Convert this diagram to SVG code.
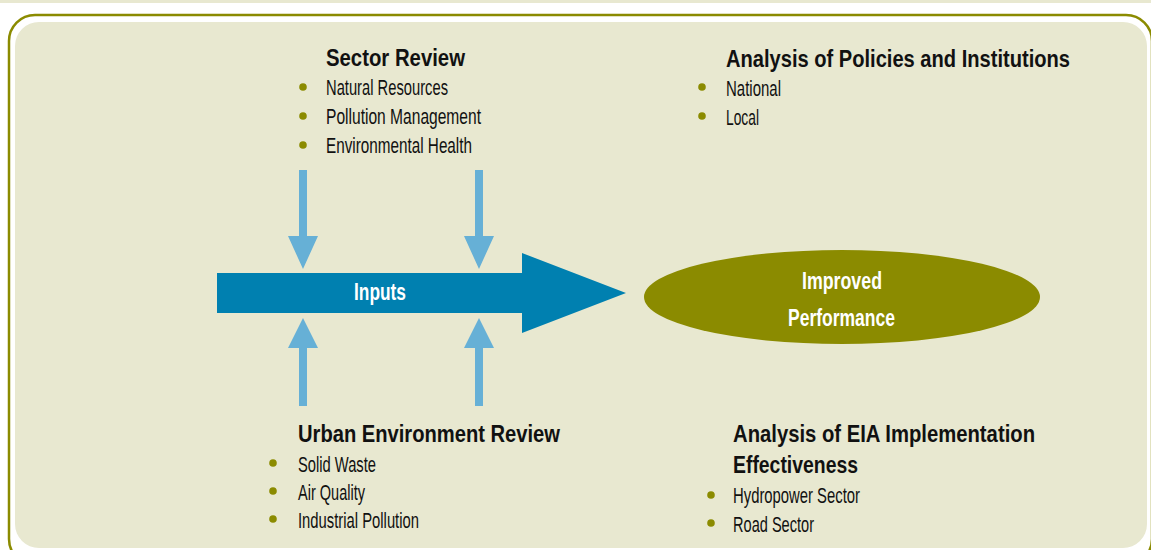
<svg xmlns="http://www.w3.org/2000/svg" width="1151" height="550" viewBox="0 0 1151 550">
<style>
.h{font-family:"Liberation Sans Narrow","Liberation Sans",Arial,sans-serif;font-weight:bold;font-size:24px;fill:#111}
.t{font-family:"Liberation Sans Narrow","Liberation Sans",Arial,sans-serif;font-size:22.5px;fill:#111}
.w{font-family:"Liberation Sans Narrow","Liberation Sans",Arial,sans-serif;font-weight:bold;font-size:23px;fill:#fff}
.b{fill:#8b8b00}
.sa{fill:#66b0d6}
</style>
<defs>
<path id="down" d="M-4,0 H4 V66 H15 L0,99 L-15,66 H-4 Z"/>
<path id="up" d="M-4,0 H4 V-58 H15 L0,-88 L-15,-58 H-4 Z"/>
</defs>
<rect x="0" y="0" width="1151" height="550" fill="#ffffff"/>
<rect x="0" y="0" width="1151" height="3" fill="#e8e8d0"/>
<g id="frame">
<rect x="9" y="15" width="1143" height="550" rx="26" fill="none" stroke="#8b8b00" stroke-width="2.5"/>
<rect x="15" y="22" width="1132" height="526" rx="24" fill="#e8e8d0"/>
</g>
<g id="connectors">
<use href="#down" x="303" y="170" class="sa"/>
<use href="#down" x="479" y="170" class="sa"/>
<use href="#up" x="303" y="406" class="sa"/>
<use href="#up" x="479" y="406" class="sa"/>
</g>
<g id="inputs">
<path d="M217,273 H522 V253 L626,293 L522,333 V313 H217 Z" fill="#0080b0"/>
<text class="w" x="354" y="300" textLength="52" lengthAdjust="spacingAndGlyphs">Inputs</text>
</g>
<g id="performance">
<ellipse cx="842" cy="297" rx="198" ry="47" fill="#8b8b00"/>
<text class="w" x="802" y="289" textLength="80" lengthAdjust="spacingAndGlyphs">Improved</text>
<text class="w" x="788" y="326" textLength="107" lengthAdjust="spacingAndGlyphs">Performance</text>
</g>
<g id="sector-review">
<text class="h" x="326" y="66" textLength="139" lengthAdjust="spacingAndGlyphs">Sector Review</text>
<circle class="b" cx="303" cy="87" r="3.8"/>
<circle class="b" cx="303" cy="116" r="3.8"/>
<circle class="b" cx="303" cy="145" r="3.8"/>
<text class="t" x="326" y="95" textLength="122" lengthAdjust="spacingAndGlyphs">Natural Resources</text>
<text class="t" x="326" y="124" textLength="155" lengthAdjust="spacingAndGlyphs">Pollution Management</text>
<text class="t" x="326" y="153" textLength="146" lengthAdjust="spacingAndGlyphs">Environmental Health</text>
</g>
<g id="policies">
<text class="h" x="726" y="67" textLength="344" lengthAdjust="spacingAndGlyphs">Analysis of Policies and Institutions</text>
<circle class="b" cx="702" cy="87" r="3.8"/>
<circle class="b" cx="702" cy="116" r="3.8"/>
<text class="t" x="726" y="96" textLength="55" lengthAdjust="spacingAndGlyphs">National</text>
<text class="t" x="726" y="125" textLength="33" lengthAdjust="spacingAndGlyphs">Local</text>
</g>
<g id="urban-review">
<text class="h" x="298" y="442" textLength="262" lengthAdjust="spacingAndGlyphs">Urban Environment Review</text>
<circle class="b" cx="273" cy="463" r="3.8"/>
<circle class="b" cx="273" cy="491" r="3.8"/>
<circle class="b" cx="273" cy="519" r="3.8"/>
<text class="t" x="298" y="472" textLength="78" lengthAdjust="spacingAndGlyphs">Solid Waste</text>
<text class="t" x="298" y="500" textLength="67" lengthAdjust="spacingAndGlyphs">Air Quality</text>
<text class="t" x="298" y="528" textLength="121" lengthAdjust="spacingAndGlyphs">Industrial Pollution</text>
</g>
<g id="eia">
<text class="h" x="733" y="442" textLength="302" lengthAdjust="spacingAndGlyphs">Analysis of EIA Implementation</text>
<text class="h" x="733" y="473" textLength="125" lengthAdjust="spacingAndGlyphs">Effectiveness</text>
<circle class="b" cx="711" cy="495" r="3.8"/>
<circle class="b" cx="711" cy="523" r="3.8"/>
<text class="t" x="733" y="503" textLength="127" lengthAdjust="spacingAndGlyphs">Hydropower Sector</text>
<text class="t" x="733" y="532" textLength="81" lengthAdjust="spacingAndGlyphs">Road Sector</text>
</g>
</svg>
